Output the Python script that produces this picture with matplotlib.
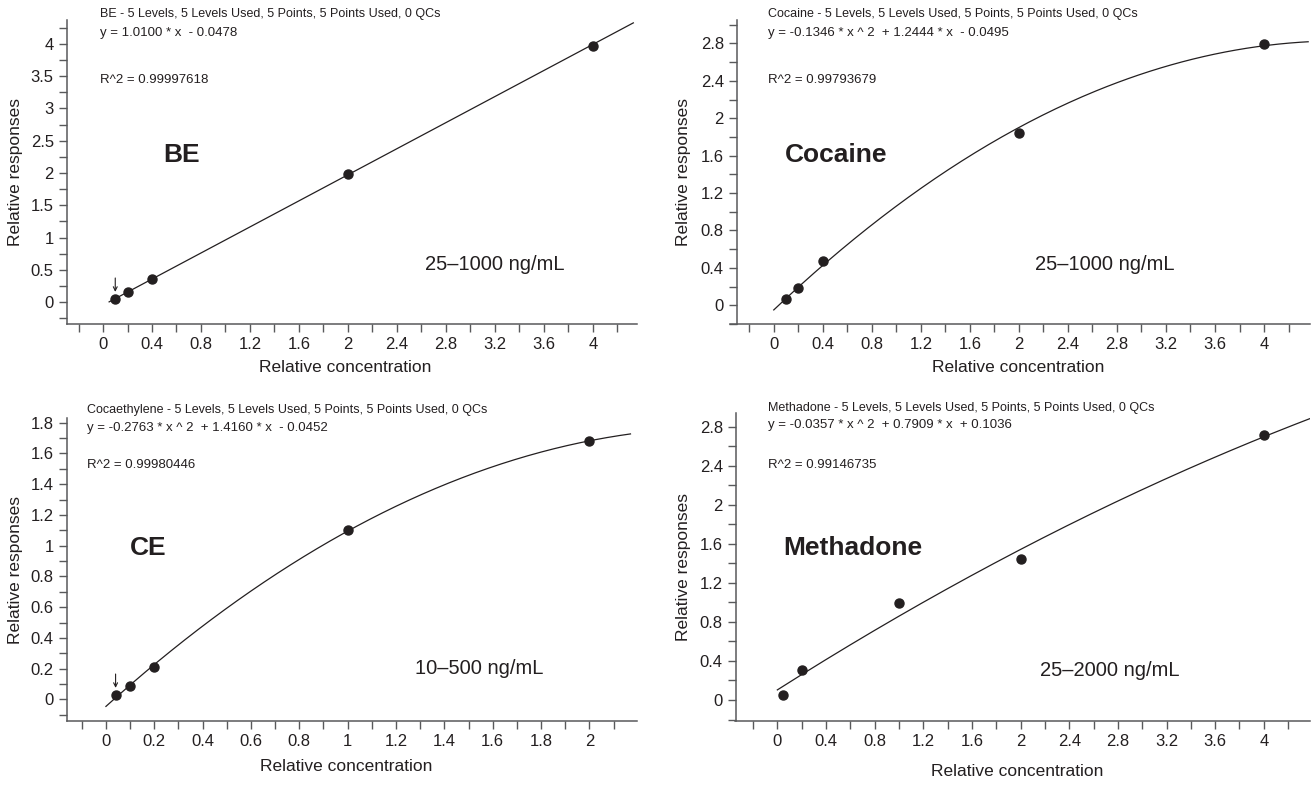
import matplotlib
matplotlib.use('Agg')
import matplotlib.pyplot as plt
from matplotlib.ticker import MultipleLocator
import numpy as np

plt.rcParams['font.family'] = ['Liberation Sans', 'DejaVu Sans']

ink = '#231f20'
axc = '#58595b'

# calibration points (relative concentration, relative response)
be_x = [0.1, 0.2, 0.4, 2, 4]
be_y = [0.05, 0.15, 0.36, 1.98, 3.97]
be_coef = [0.0, 1.0100, -0.0478]
be_fit = [0.05, 4.33]

coc_x = [0.1, 0.2, 0.4, 2, 4]
coc_y = [0.07, 0.19, 0.47, 1.84, 2.79]
coc_coef = [-0.1346, 1.2444, -0.0495]
coc_fit = [0.0, 4.36]

ce_x = [0.04, 0.1, 0.2, 1, 2]
ce_y = [0.03, 0.09, 0.21, 1.10, 1.68]
ce_coef = [-0.2763, 1.4160, -0.0452]
ce_fit = [0.0, 2.17]

met_x = [0.05, 0.2, 1, 2, 4]
met_y = [0.05, 0.31, 0.99, 1.44, 2.71]
met_coef = [-0.0357, 0.7909, 0.1036]
met_fit = [0.0, 4.38]

W, H = 1312, 785
fig = plt.figure(figsize=(W / 100, H / 100), dpi=100)


def px(x, y):
    return x / W, 1 - y / H


panels = [
    dict(x=be_x, y=be_y, coef=be_coef, fit=be_fit, box=(67, 20, 637, 324),
         xlim=(-0.294, 4.36), ylim=(-0.34, 4.37), xt=(0.4, 0.2), yt=(0.5, 0.25),
         head='BE - 5 Levels, 5 Levels Used, 5 Points, 5 Points Used, 0 QCs',
         eq='y = 1.0100 * x  - 0.0478', r2='R^2 = 0.99997618',
         hx=100, hy=(14, 33, 80), name='BE', nxy=(163, 155),
         rng='25\u20131000 ng/mL', rxy=(425, 265), arrow=True, ext=0,
         xl=(0.488, -0.118), yl=(-0.077, 0.5)),
    dict(x=coc_x, y=coc_y, coef=coc_coef, fit=coc_fit, box=(737, 20, 1310, 324),
         xlim=(-0.30, 4.375), ylim=(-0.2, 3.05), xt=(0.4, 0.2), yt=(0.4, 0.2),
         head='Cocaine - 5 Levels, 5 Levels Used, 5 Points, 5 Points Used, 0 QCs',
         eq='y = -0.1346 * x ^ 2  + 1.2444 * x  - 0.0495', r2='R^2 = 0.99793679',
         hx=768, hy=(14, 33, 80), name='Cocaine', nxy=(785, 155),
         rng='25\u20131000 ng/mL', rxy=(1035, 265), arrow=False, ext=0.057,
         xl=(0.49, -0.118), yl=(-0.080, 0.5)),
    dict(x=ce_x, y=ce_y, coef=ce_coef, fit=ce_fit, box=(67, 418, 637, 721),
         xlim=(-0.161, 2.197), ylim=(-0.14, 1.83), xt=(0.2, 0.1), yt=(0.2, 0.1),
         head='Cocaethylene - 5 Levels, 5 Levels Used, 5 Points, 5 Points Used, 0 QCs',
         eq='y = -0.2763 * x ^ 2  + 1.4160 * x  - 0.0452', r2='R^2 = 0.99980446',
         hx=87, hy=(410, 428, 465), name='CE', nxy=(130, 548),
         rng='10\u2013500 ng/mL', rxy=(415, 668), arrow=True, ext=0,
         xl=(0.49, -0.125), yl=(-0.077, 0.5)),
    dict(x=met_x, y=met_y, coef=met_coef, fit=met_fit, box=(736, 413, 1310, 721),
         xlim=(-0.34, 4.38), ylim=(-0.215, 2.94), xt=(0.4, 0.2), yt=(0.4, 0.2),
         head='Methadone - 5 Levels, 5 Levels Used, 5 Points, 5 Points Used, 0 QCs',
         eq='y = -0.0357 * x ^ 2  + 0.7909 * x  + 0.1036', r2='R^2 = 0.99146735',
         hx=768, hy=(408, 425, 465), name='Methadone', nxy=(783, 548),
         rng='25\u20132000 ng/mL', rxy=(1040, 670), arrow=False, ext=0.01,
         xl=(0.49, -0.140), yl=(-0.078, 0.5)),
]

for p in panels:
    l, t, r, b = p['box']
    x0, y1 = px(l, b)
    ax = fig.add_axes([x0, y1, (r - l) / W, (b - t) / H])
    a, bb, c = p['coef']
    xs = np.linspace(p['fit'][0], p['fit'][1], 200)
    ax.plot(xs, a * xs ** 2 + bb * xs + c, color=ink, lw=0.9)
    ax.plot(p['x'], p['y'], 'o', color=ink, ms=6.5, zorder=3)
    if p['arrow']:
        ax.annotate('', xy=(p['x'][0], p['y'][0]), xytext=(0, 15),
                    textcoords='offset points',
                    arrowprops=dict(arrowstyle='->', color=ink, lw=0.8,
                                    shrinkA=0, shrinkB=5, mutation_scale=7))
    ax.set_xlim(*p['xlim'])
    ax.set_ylim(*p['ylim'])
    ax.xaxis.set_major_locator(MultipleLocator(p['xt'][0]))
    ax.xaxis.set_minor_locator(MultipleLocator(p['xt'][1]))
    ax.yaxis.set_major_locator(MultipleLocator(p['yt'][0]))
    ax.yaxis.set_minor_locator(MultipleLocator(p['yt'][1]))
    ax.xaxis.set_major_formatter(lambda v, pos: f'{v:.10g}')
    ax.yaxis.set_major_formatter(lambda v, pos: f'{v:.10g}')
    ax.tick_params(which='both', direction='out', length=6, width=1, color=axc,
                   labelcolor=ink, labelsize=12)
    for s in ('top', 'right'):
        ax.spines[s].set_visible(False)
    for s in ('left', 'bottom'):
        ax.spines[s].set_color(axc)
        ax.spines[s].set_linewidth(1.1)
    if p['ext']:
        ax.spines['bottom'].set_bounds(p['xlim'][0] - p['ext'], p['xlim'][1])
    ax.set_xlabel('Relative concentration', fontsize=12.5, color=ink)
    ax.set_ylabel('Relative responses', fontsize=12.5, color=ink)
    ax.xaxis.set_label_coords(*p['xl'])
    ax.yaxis.set_label_coords(*p['yl'])

    fig.text(*px(p['hx'], p['hy'][0]), p['head'], fontsize=9, color=ink, va='center')
    fig.text(*px(p['hx'], p['hy'][1]), p['eq'], fontsize=9.5, color=ink, va='center')
    fig.text(*px(p['hx'], p['hy'][2]), p['r2'], fontsize=9.5, color=ink, va='center')
    fig.text(*px(*p['nxy']), p['name'], fontsize=19, fontweight='bold',
             color=ink, va='center')
    fig.text(*px(*p['rxy']), p['rng'], fontsize=14.5, color=ink, va='center')

fig.savefig('out.png', dpi=100)
